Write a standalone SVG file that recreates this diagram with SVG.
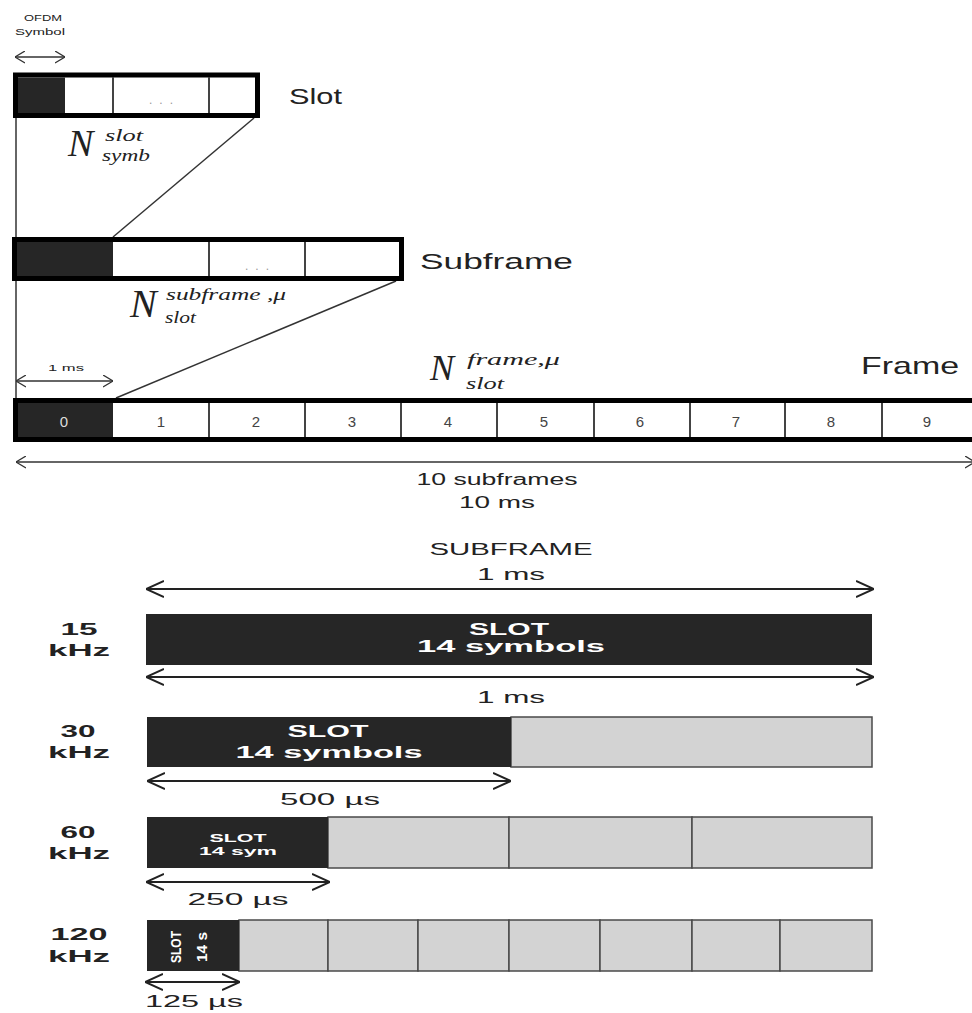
<svg xmlns="http://www.w3.org/2000/svg" width="972" height="1013" viewBox="0 0 972 1013">
<style>
.box{fill:#fff;stroke:#000;stroke-width:5}
.dark{fill:#262626}
.gray{fill:#d3d3d3;stroke:#4a4a4a;stroke-width:1.5}
.div{stroke:#444;stroke-width:2}
.ln{stroke:#333;stroke-width:1.5;fill:none}
.lnb{stroke:#222;stroke-width:2;fill:none}
.t{font-family:"Liberation Sans",Arial,sans-serif;fill:#222}
.lbl{font-family:"Liberation Sans",Arial,sans-serif;fill:#222}
.m{font-family:"Liberation Serif","Times New Roman",serif;font-style:italic;fill:#222}
.w{font-family:"Liberation Sans",Arial,sans-serif;fill:#fff;font-weight:bold;text-anchor:middle}
.k{font-family:"Liberation Sans",Arial,sans-serif;font-weight:bold;font-size:17px;fill:#222;text-anchor:middle}
.num{font-family:"Liberation Sans",Arial,sans-serif;font-size:15px;fill:#444;text-anchor:middle}
.num0{font-family:"Liberation Sans",Arial,sans-serif;font-size:15px;fill:#ddd;text-anchor:middle}
.dots{font-family:"Liberation Sans",Arial,sans-serif;font-size:12px;fill:#999;text-anchor:middle}
.mid{text-anchor:middle}
</style>
<defs>
<marker id="as" viewBox="0 0 10 12" refX="10" refY="6" markerWidth="10" markerHeight="13" markerUnits="userSpaceOnUse" orient="auto-start-reverse" preserveAspectRatio="none">
<path d="M0,0.5 L10,6 L0,11.5" fill="none" stroke="#333" stroke-width="1.3"/>
</marker>
<marker id="al" viewBox="0 0 10 10" refX="10" refY="5" markerWidth="18" markerHeight="18" markerUnits="userSpaceOnUse" orient="auto-start-reverse" preserveAspectRatio="none">
<path d="M0,0.5 L10,5 L0,9.5" fill="none" stroke="#222" stroke-width="1.1"/>
</marker>
</defs>
<rect width="972" height="1013" fill="#fff"/>

<g id="connectors">
<line class="ln" x1="16" y1="118" x2="16" y2="398"/>
<line class="ln" x1="254" y1="118" x2="113" y2="237"/>
<line class="ln" x1="396" y1="281" x2="116" y2="398"/>
<line class="ln" x1="15" y1="57" x2="65" y2="57" marker-start="url(#as)" marker-end="url(#as)"/>
<line class="ln" x1="16" y1="381" x2="113" y2="381" marker-start="url(#as)" marker-end="url(#as)"/>
<line class="ln" x1="16" y1="462" x2="975" y2="462" marker-start="url(#as)" marker-end="url(#as)"/>
<line class="lnb" x1="146" y1="589" x2="874" y2="589" marker-start="url(#al)" marker-end="url(#al)"/>
<line class="lnb" x1="146" y1="677" x2="874" y2="677" marker-start="url(#al)" marker-end="url(#al)"/>
<line class="lnb" x1="147" y1="781" x2="511" y2="781" marker-start="url(#al)" marker-end="url(#al)"/>
<line class="lnb" x1="146" y1="882" x2="330" y2="882" marker-start="url(#al)" marker-end="url(#al)"/>
<line class="lnb" x1="145" y1="982" x2="240" y2="982" marker-start="url(#al)" marker-end="url(#al)"/>
</g>

<g id="ofdm-symbol">
<text class="t mid" x="43" y="21" font-size="9" textLength="38" lengthAdjust="spacingAndGlyphs">OFDM</text>
<text class="t mid" x="40" y="35" font-size="9" textLength="50" lengthAdjust="spacingAndGlyphs">Symbol</text>
</g>

<g id="slot">
<rect class="box" x="15.5" y="75" width="242" height="40.5"/>
<rect class="dark" x="18" y="77.5" width="47" height="35.5"/>
<line class="div" x1="113" y1="77" x2="113" y2="113"/>
<line class="div" x1="209" y1="77" x2="209" y2="113"/>
<text class="dots" x="161" y="104" textLength="24" lengthAdjust="spacing">...</text>
<text class="lbl" x="289" y="104" font-size="22" textLength="53" lengthAdjust="spacingAndGlyphs">Slot</text>
<text class="m" x="68" y="156" font-size="38">N</text>
<text class="m" x="105" y="141" font-size="16" textLength="38" lengthAdjust="spacingAndGlyphs">slot</text>
<text class="m" x="102" y="161" font-size="16" textLength="48" lengthAdjust="spacingAndGlyphs">symb</text>
</g>

<g id="subframe">
<rect class="box" x="14.5" y="239.5" width="387" height="39"/>
<rect class="dark" x="17" y="242" width="96" height="34"/>
<line class="div" x1="209" y1="242" x2="209" y2="276"/>
<line class="div" x1="305" y1="242" x2="305" y2="276"/>
<text class="dots" x="257" y="270" textLength="24" lengthAdjust="spacing">...</text>
<text class="lbl" x="420" y="269" font-size="22" textLength="153" lengthAdjust="spacingAndGlyphs">Subframe</text>
<text class="m" x="130" y="317" font-size="40">N</text>
<text class="m" x="166" y="300" font-size="16" textLength="120" lengthAdjust="spacingAndGlyphs">subframe ,μ</text>
<text class="m" x="165" y="323" font-size="16" textLength="31" lengthAdjust="spacingAndGlyphs">slot</text>
</g>

<g id="frame">
<text class="t mid" x="66" y="371" font-size="9" textLength="36" lengthAdjust="spacingAndGlyphs">1 ms</text>
<rect class="box" x="15.5" y="400.5" width="970" height="39"/>
<rect class="dark" x="18" y="403" width="95" height="34"/>
<line class="div" x1="209" y1="403" x2="209" y2="437"/>
<line class="div" x1="305" y1="403" x2="305" y2="437"/>
<line class="div" x1="401" y1="403" x2="401" y2="437"/>
<line class="div" x1="497" y1="403" x2="497" y2="437"/>
<line class="div" x1="594" y1="403" x2="594" y2="437"/>
<line class="div" x1="690" y1="403" x2="690" y2="437"/>
<line class="div" x1="785" y1="403" x2="785" y2="437"/>
<line class="div" x1="882" y1="403" x2="882" y2="437"/>
<text class="num0" x="64" y="427">0</text>
<text class="num" x="161" y="427">1</text>
<text class="num" x="256" y="427">2</text>
<text class="num" x="352" y="427">3</text>
<text class="num" x="448" y="427">4</text>
<text class="num" x="544" y="427">5</text>
<text class="num" x="640" y="427">6</text>
<text class="num" x="736" y="427">7</text>
<text class="num" x="831" y="427">8</text>
<text class="num" x="927" y="427">9</text>
<text class="lbl" x="861" y="374" font-size="24" textLength="98" lengthAdjust="spacingAndGlyphs">Frame</text>
<text class="m" x="430" y="380" font-size="36">N</text>
<text class="m" x="467" y="365" font-size="16" textLength="93" lengthAdjust="spacingAndGlyphs">frame,μ</text>
<text class="m" x="466" y="389" font-size="16" textLength="38" lengthAdjust="spacingAndGlyphs">slot</text>
<text class="t mid" x="497" y="485" font-size="16" textLength="161" lengthAdjust="spacingAndGlyphs">10 subframes</text>
<text class="t mid" x="497" y="508" font-size="16" textLength="76" lengthAdjust="spacingAndGlyphs">10 ms</text>
</g>

<g id="subframe-header">
<text class="t mid" x="511" y="555" font-size="16" textLength="163" lengthAdjust="spacingAndGlyphs">SUBFRAME</text>
<text class="t mid" x="511" y="580" font-size="17" textLength="68" lengthAdjust="spacingAndGlyphs">1 ms</text>
</g>

<g id="scs-15">
<text class="k" x="79" y="635" textLength="37" lengthAdjust="spacingAndGlyphs">15</text>
<text class="k" x="79" y="656" textLength="62" lengthAdjust="spacingAndGlyphs">kHz</text>
<rect class="dark" x="146" y="614" width="726" height="51"/>
<text class="w" x="509" y="635" font-size="17" textLength="80" lengthAdjust="spacingAndGlyphs">SLOT</text>
<text class="w" x="511" y="652" font-size="17" textLength="188" lengthAdjust="spacingAndGlyphs">14 symbols</text>
<text class="t mid" x="511" y="703" font-size="17" textLength="68" lengthAdjust="spacingAndGlyphs">1 ms</text>
</g>

<g id="scs-30">
<text class="k" x="78" y="737" textLength="35" lengthAdjust="spacingAndGlyphs">30</text>
<text class="k" x="79" y="758" textLength="62" lengthAdjust="spacingAndGlyphs">kHz</text>
<rect class="gray" x="511" y="717" width="361" height="50"/>
<rect class="dark" x="147" y="717" width="364" height="50"/>
<text class="w" x="328" y="737" font-size="17" textLength="81" lengthAdjust="spacingAndGlyphs">SLOT</text>
<text class="w" x="329" y="758" font-size="17" textLength="187" lengthAdjust="spacingAndGlyphs">14 symbols</text>
<text class="t mid" x="330" y="805" font-size="17" textLength="100" lengthAdjust="spacingAndGlyphs">500 µs</text>
</g>

<g id="scs-60">
<text class="k" x="78" y="838" textLength="35" lengthAdjust="spacingAndGlyphs">60</text>
<text class="k" x="79" y="859" textLength="62" lengthAdjust="spacingAndGlyphs">kHz</text>
<rect class="gray" x="328" y="817" width="181" height="51"/>
<rect class="gray" x="509" y="817" width="183" height="51"/>
<rect class="gray" x="692" y="817" width="180" height="51"/>
<rect class="dark" x="147" y="817" width="181" height="51"/>
<text class="w" x="238" y="842" font-size="11" textLength="57" lengthAdjust="spacingAndGlyphs">SLOT</text>
<text class="w" x="238" y="855" font-size="11" textLength="78" lengthAdjust="spacingAndGlyphs">14 sym</text>
<text class="t mid" x="238" y="905" font-size="17" textLength="101" lengthAdjust="spacingAndGlyphs">250 µs</text>
</g>

<g id="scs-120">
<text class="k" x="79" y="940" textLength="57" lengthAdjust="spacingAndGlyphs">120</text>
<text class="k" x="79" y="962" textLength="62" lengthAdjust="spacingAndGlyphs">kHz</text>
<rect class="gray" x="239" y="920" width="89" height="51"/>
<rect class="gray" x="328" y="920" width="90" height="51"/>
<rect class="gray" x="418" y="920" width="91" height="51"/>
<rect class="gray" x="509" y="920" width="91" height="51"/>
<rect class="gray" x="600" y="920" width="92" height="51"/>
<rect class="gray" x="692" y="920" width="88" height="51"/>
<rect class="gray" x="780" y="920" width="92" height="51"/>
<rect class="dark" x="147" y="920" width="92" height="51"/>
<text class="w" font-size="15" textLength="32" lengthAdjust="spacingAndGlyphs" transform="translate(181,947) rotate(-90)">SLOT</text>
<text class="w" font-size="15" textLength="30" lengthAdjust="spacingAndGlyphs" transform="translate(207,947) rotate(-90)">14 s</text>
<text class="t mid" x="194" y="1007" font-size="17" textLength="98" lengthAdjust="spacingAndGlyphs">125 µs</text>
</g>
</svg>
